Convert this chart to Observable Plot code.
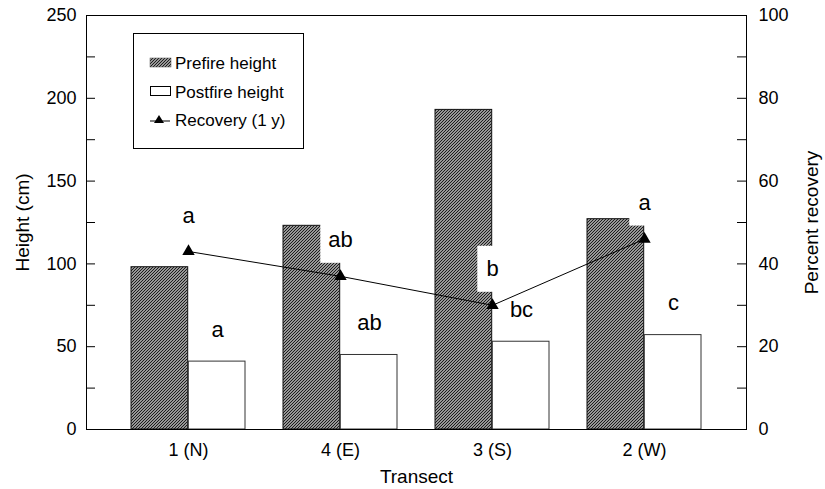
<!DOCTYPE html>
<html><head><meta charset="utf-8">
<script src="https://cdn.jsdelivr.net/npm/d3@7"></script>
<script src="https://cdn.jsdelivr.net/npm/@observablehq/plot@0.6"></script>
<style>
body{margin:0;background:#fff;font-family:"Liberation Sans",Arial,sans-serif;}
#wrap{position:relative;width:825px;height:489px;}
#legend{position:absolute;left:133px;top:33px;}
#defs{position:absolute;width:0;height:0;}
</style></head><body>
<svg id="defs" width="0" height="0"><defs>
<pattern id="hatch" patternUnits="userSpaceOnUse" width="3" height="3">
<rect width="3" height="3" fill="#cfcfcf"/>
<path d="M-0.75,0.75 L0.75,-0.75 M0,3 L3,0 M2.25,3.75 L3.75,2.25" stroke="#151515" stroke-width="1.15"/>
</pattern></defs></svg>
<div id="wrap"><div id="chart"></div>
<svg id="legend" width="172" height="117" font-family="Liberation Sans, Arial, sans-serif" font-size="17">
<rect x="0.5" y="0.5" width="170" height="115" fill="white" stroke="black" stroke-width="1"/>
<rect x="17" y="25" width="21" height="9" fill="url(#hatch)" stroke="#555" stroke-width="0.5"/>
<text x="42" y="36">Prefire height</text>
<rect x="17.5" y="53.5" width="20" height="9" fill="white" stroke="black" stroke-width="1"/>
<text x="42" y="65">Postfire height</text>
<line x1="17" x2="37" y1="88" y2="88" stroke="black" stroke-width="1"/>
<path d="M26,82 L31,90 L21,90 Z" fill="black"/>
<text x="42" y="93">Recovery (1 y)</text>
</svg>
</div>
<script>
const transects = ["1 (N)", "4 (E)", "3 (S)", "2 (W)"];
const prefire = [98, 123, 193, 127];
const postfire = [41, 45, 53, 57];
const recovery = [43, 37, 30, 46];
const recoveryLetters = ["a", "ab", "b", "a"];
const postfireLetters = ["a", "ab", "bc", "c"];
const heightTickLabels = [0, 50, 100, 150, 200, 250];
const heightTicks = [0, 25, 50, 75, 100, 125, 150, 175, 200, 225, 250];
const K = 2.5; // cm per percent on the shared y scale (250 cm = 100 %)

const data = transects.map((t, i) => ({
  t, pre: prefire[i], post: postfire[i], rec: recovery[i],
  recY: recovery[i] * K, rl: recoveryLetters[i], pl: postfireLetters[i]
}));

const half = 57.3;
const chart = Plot.plot({
  width: 825, height: 489,
  marginLeft: 86, marginRight: 79, marginTop: 15, marginBottom: 60,
  style: {fontFamily: "Liberation Sans, Arial, sans-serif", fontSize: "17px", background: "white", color: "black"},
  x: {domain: transects, paddingInner: 0.25, paddingOuter: 0.284},
  y: {domain: [0, 250]},
  marks: [
    Plot.barY(data, {x: "t", y: "pre", fill: "url(#hatch)", stroke: "#111", strokeWidth: 1, insetRight: half}),
    Plot.barY(data, {x: "t", y: "post", fill: "white", stroke: "#333", strokeWidth: 1, insetLeft: half}),
    Plot.barY(data.filter(d => d.rl.length > 1), {x: "t", y1: "recY", y2: "recY", fill: "white", insetLeft: half - 20, insetRight: half - 20, insetTop: -59, insetBottom: 13}),
    Plot.barY(data.filter(d => d.rl.length === 1), {x: "t", y1: "recY", y2: "recY", fill: "white", insetLeft: half - 15, insetRight: half - 15, insetTop: -59, insetBottom: 13}),
    Plot.line(data, {x: "t", y: "recY", stroke: "black", strokeWidth: 1}),
    Plot.dot(data, {x: "t", y: "recY", symbol: "triangle", r: 4.6, fill: "black"}),
    Plot.text(data, {x: "t", y: "recY", text: "rl", dy: -36, fontSize: 22}),
    Plot.text(data, {x: "t", y: "post", text: "pl", dx: 29, dy: -32, fontSize: 22}),
    Plot.frame({stroke: "black", strokeWidth: 1}),
    Plot.axisY({anchor: "left", ticks: heightTicks, tickSize: 9, dx: 9, text: null, label: null}),
    Plot.axisY({anchor: "left", ticks: heightTickLabels, tickSize: 0, tickPadding: 10, fontSize: 18,
      label: null}),
    Plot.axisY({anchor: "right", ticks: heightTicks, tickSize: 10, dx: -10, text: null, label: null}),
    Plot.axisY({anchor: "right", ticks: heightTickLabels, tickFormat: d => d / K, tickSize: 0, tickPadding: 12, fontSize: 18,
      label: null}),
    Plot.axisY({anchor: "left", ticks: [], tickSize: 0, fontSize: 19,
      label: "Height (cm)", labelAnchor: "center", labelArrow: "none", labelOffset: 71}),
    Plot.axisY({anchor: "right", ticks: [], tickSize: 0, fontSize: 19,
      label: "Percent recovery", labelAnchor: "center", labelArrow: "none", labelOffset: 71}),
    Plot.axisX({tickSize: 0, tickPadding: 14, fontSize: 18, label: null}),
    Plot.axisX({ticks: [], tickSize: 0, fontSize: 19, label: "Transect", labelAnchor: "center", labelArrow: "none", labelOffset: 53})
  ]
});
document.getElementById("chart").appendChild(chart);
</script>
</body></html>
